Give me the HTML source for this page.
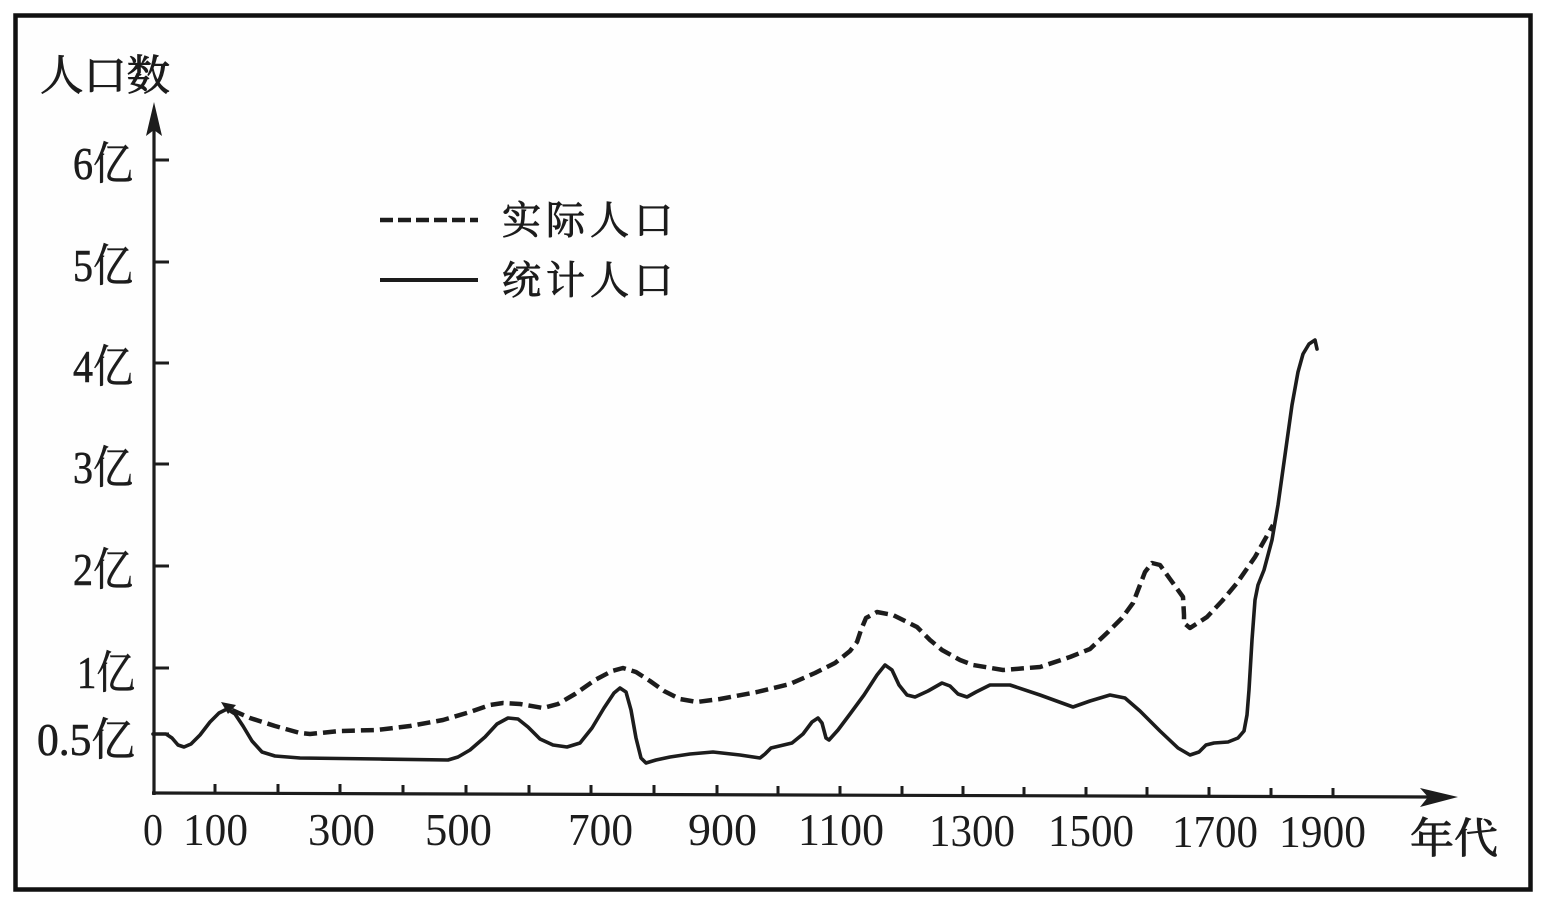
<!DOCTYPE html>
<html><head><meta charset="utf-8"><style>
html,body{margin:0;padding:0;background:#fff;}
svg{display:block;}
text{fill:#1c1c1c;}
.n{font-family:"Liberation Serif","Noto Serif CJK SC",serif;font-size:45px;}
.c{font-family:"Liberation Serif","Noto Serif CJK SC",serif;stroke:#1c1c1c;stroke-width:0.9px;}
.y{stroke:#1c1c1c;stroke-width:0.6px;}
</style></head><body>
<svg width="1565" height="902" viewBox="0 0 1565 902" xmlns="http://www.w3.org/2000/svg">
<rect x="0" y="0" width="1565" height="902" fill="#fff"/>
<rect x="15.5" y="15.5" width="1515" height="874" fill="#fefefe" stroke="#111" stroke-width="4.5"/>

<!-- y axis -->
<line x1="154" y1="795" x2="154" y2="120" stroke="#1c1c1c" stroke-width="3.2"/>
<polygon points="154,102 162,136 154,130 146,136" fill="#1c1c1c"/>
<!-- x axis -->
<line x1="152" y1="793" x2="1430" y2="797" stroke="#1c1c1c" stroke-width="3.2"/>
<polygon points="1458,797 1420,788 1428,797 1420,807" fill="#1c1c1c"/>

<!-- y ticks -->
<g stroke="#1c1c1c" stroke-width="3">
<line x1="154" y1="160" x2="169" y2="160"/>
<line x1="154" y1="262" x2="169" y2="262"/>
<line x1="154" y1="363" x2="169" y2="363"/>
<line x1="154" y1="464" x2="169" y2="464"/>
<line x1="154" y1="566" x2="169" y2="566"/>
<line x1="154" y1="668" x2="169" y2="668"/>
<line x1="154" y1="734" x2="169" y2="734"/>
</g>
<!-- x ticks -->
<g stroke="#1c1c1c" stroke-width="3">
<line x1="215" y1="784" x2="215" y2="793"/>
<line x1="278" y1="784" x2="278" y2="793"/>
<line x1="340" y1="784" x2="340" y2="794"/>
<line x1="403" y1="785" x2="403" y2="794"/>
<line x1="466" y1="785" x2="466" y2="794"/>
<line x1="529" y1="785" x2="529" y2="794"/>
<line x1="591" y1="785" x2="591" y2="794"/>
<line x1="654" y1="785" x2="654" y2="795"/>
<line x1="717" y1="785" x2="717" y2="795"/>
<line x1="778" y1="786" x2="778" y2="795"/>
<line x1="840" y1="786" x2="840" y2="795"/>
<line x1="902" y1="786" x2="902" y2="795"/>
<line x1="963" y1="786" x2="963" y2="795"/>
<line x1="1024" y1="787" x2="1024" y2="796"/>
<line x1="1086" y1="787" x2="1086" y2="796"/>
<line x1="1147" y1="787" x2="1147" y2="796"/>
<line x1="1209" y1="787" x2="1209" y2="796"/>
<line x1="1271" y1="788" x2="1271" y2="797"/>
<line x1="1333" y1="788" x2="1333" y2="797"/>
</g>

<!-- y labels -->
<g class="n y">
<text x="73" y="179" textLength="60" lengthAdjust="spacingAndGlyphs">6亿</text>
<text x="73" y="281" textLength="60" lengthAdjust="spacingAndGlyphs">5亿</text>
<text x="73" y="382" textLength="60" lengthAdjust="spacingAndGlyphs">4亿</text>
<text x="73" y="483" textLength="60" lengthAdjust="spacingAndGlyphs">3亿</text>
<text x="73" y="585" textLength="60" lengthAdjust="spacingAndGlyphs">2亿</text>
<text x="77" y="688" textLength="58" lengthAdjust="spacingAndGlyphs">1亿</text>
<text x="37" y="755" textLength="98" lengthAdjust="spacingAndGlyphs">0.5亿</text>
</g>

<!-- x labels -->
<g class="n">
<text x="143" y="845" textLength="20" lengthAdjust="spacingAndGlyphs">0</text>
<text x="183" y="845" textLength="65" lengthAdjust="spacingAndGlyphs">100</text>
<text x="308" y="845" textLength="67" lengthAdjust="spacingAndGlyphs">300</text>
<text x="425" y="845" textLength="67" lengthAdjust="spacingAndGlyphs">500</text>
<text x="568" y="845" textLength="65" lengthAdjust="spacingAndGlyphs">700</text>
<text x="688" y="845" textLength="69" lengthAdjust="spacingAndGlyphs">900</text>
<text x="798" y="845" textLength="86" lengthAdjust="spacingAndGlyphs">1100</text>
<text x="929" y="846" textLength="86" lengthAdjust="spacingAndGlyphs">1300</text>
<text x="1048" y="846" textLength="86" lengthAdjust="spacingAndGlyphs">1500</text>
<text x="1172" y="847" textLength="86" lengthAdjust="spacingAndGlyphs">1700</text>
<text x="1279" y="847" textLength="87" lengthAdjust="spacingAndGlyphs">1900</text>
</g>

<!-- axis titles -->
<text class="c" x="40" y="90" font-size="42" textLength="130" lengthAdjust="spacingAndGlyphs">人口数</text>
<text class="c" x="1410" y="853" font-size="42" textLength="88" lengthAdjust="spacingAndGlyphs">年代</text>

<!-- legend -->
<line x1="380" y1="220" x2="478" y2="220" stroke="#1c1c1c" stroke-width="4.5" stroke-dasharray="13 5"/>
<line x1="380" y1="280" x2="478" y2="280" stroke="#1c1c1c" stroke-width="4"/>
<text class="c" x="502" y="234" font-size="39" textLength="171" lengthAdjust="spacing">实际人口</text>
<text class="c" x="502" y="294" font-size="39" textLength="171" lengthAdjust="spacing">统计人口</text>

<!-- statistical population (solid) -->
<polyline fill="none" stroke="#1c1c1c" stroke-width="3.6" stroke-linejoin="round" stroke-linecap="round" points="
153,734 166,734 172,738 178,745 184,747 191,744 200,735 210,722 219,713 227,709 235,714 243,726 252,741 262,752 275,756 300,758 380,759 448,760 458,757 470,750 485,737 497,724 508,718 518,719 528,727 540,739 553,745 567,747 580,743 592,728 604,708 614,693 620,688 626,692 631,710 636,738 641,758 646,763 656,760 670,757 690,754 713,752 740,755 760,758 765,754 771,748 792,743 803,734 812,722 818,718 822,723 826,738 829,740 838,730 850,714 864,695 877,675 885,665 892,670 899,685 907,695 915,697 928,691 942,683 950,686 958,694 967,697 976,692 990,685 1010,685 1040,695 1073,707 1090,701 1110,695 1125,698 1140,711 1160,731 1178,748 1190,755 1199,752 1206,745 1214,743 1228,742 1238,738 1244,731 1247,715 1249,690 1252,640 1255,600 1258,585 1264,570 1272,540 1278,505 1285,455 1292,405 1298,372 1303,354 1309,344 1315,340 1317,349"/>

<!-- actual population (dashed) -->
<polyline fill="none" stroke="#1c1c1c" stroke-width="4.5" stroke-dasharray="13 6" stroke-linejoin="round" points="
232,710 250,718 275,726 300,733 310,734 340,731 377,730 410,726 443,720 470,712 490,705 503,703 520,704 543,708 558,704 575,694 595,680 612,671 623,668 636,672 650,681 664,691 680,699 697,702 720,699 757,692 790,684 815,673 835,663 850,651 857,642 861,630 866,618 877,612 893,615 917,627 930,640 942,650 960,660 973,665 1003,670 1040,667 1070,657 1090,649 1108,632 1122,618 1133,603 1140,585 1145,572 1152,563 1160,565 1170,579 1183,597 1184,615 1184,623 1190,628 1207,617 1222,601 1237,583 1255,557 1273,525"/>
<polygon points="221,702 236,705 228,714" fill="#1c1c1c"/>
</svg>
</body></html>
